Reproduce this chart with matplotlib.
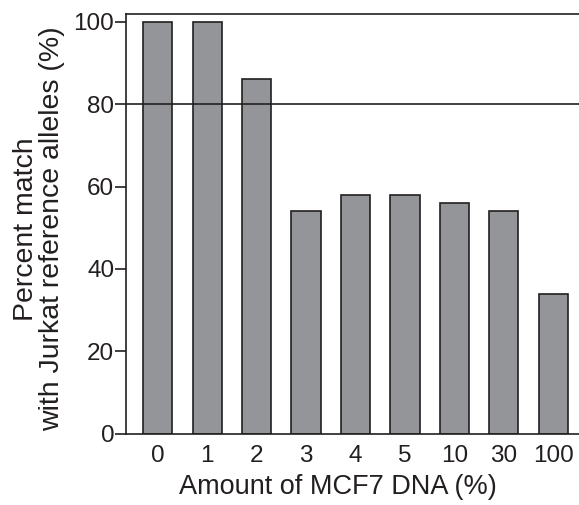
import matplotlib
matplotlib.use("Agg")
import matplotlib.pyplot as plt

categories = ["0", "1", "2", "3", "4", "5", "10", "30", "100"]
values = [100, 100, 86, 54, 58, 58, 56, 54, 34]
y_ticks = [0, 20, 40, 60, 80, 100]
threshold = 80

plt.rcParams['font.family'] = ['Liberation Sans', 'DejaVu Sans']
text_color = '#231f20'

fig = plt.figure(figsize=(5.79, 5.05), dpi=100)
ax = fig.add_axes([0.2176, 0.1412, 1.0 - 0.2176, 0.9723 - 0.1412])

x = list(range(len(categories)))
ax.bar(x, values, width=0.59, color='#939598', edgecolor=text_color, linewidth=1.2, zorder=2)
ax.axhline(threshold, color=text_color, linewidth=1.2, zorder=3)

ax.set_xlim(-0.64, 8.52)
ax.set_ylim(0, 101.9)
ax.set_yticks(y_ticks)
ax.set_xticks(x)
ax.set_xticklabels(categories)

for s in ['left', 'bottom', 'top']:
    ax.spines[s].set_color(text_color)
    ax.spines[s].set_linewidth(1.2)
ax.spines['right'].set_visible(False)

ax.tick_params(axis='y', direction='out', length=8, width=1.2, color=text_color,
               labelsize=17.5, labelcolor=text_color, pad=0.5)
ax.tick_params(axis='x', length=0, labelsize=17.5, labelcolor=text_color, pad=8)

ax.set_xlabel("Amount of MCF7 DNA (%)", fontsize=19.5, color=text_color, labelpad=5)
ax.set_ylabel("Percent match\nwith Jurkat reference alleles (%)", fontsize=20.5,
              color=text_color, labelpad=6, linespacing=1.0)
ax.xaxis.label.set_x(0.468)
ax.yaxis.label.set_y(0.488)

fig.savefig("out.png", dpi=100)
